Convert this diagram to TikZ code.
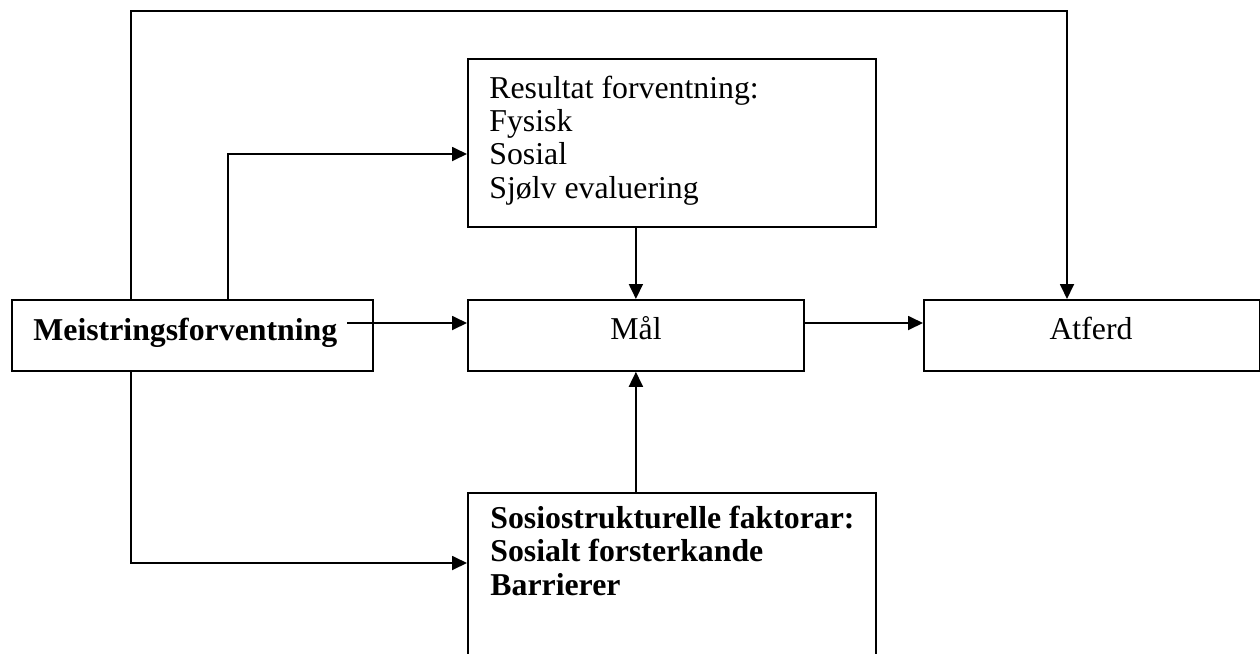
\documentclass[tikz,border=0pt]{standalone}
\usepackage{fontspec}
\setmainfont{Liberation Serif}
\usetikzlibrary{arrows.meta}
\begin{document}
\begin{tikzpicture}[x=0.5pt,y=-0.5pt,
  box/.style={draw, line width=0.9pt, inner sep=0pt, anchor=north west},
  lbl/.style={inner sep=0pt, font=\fontsize{15.9}{16.67}\selectfont},
  lblb/.style={inner sep=0pt, font=\fontsize{15.9}{16.67}\selectfont\bfseries},
  conn/.style={line width=0.9pt},
  arr/.style={conn, -{Triangle[length=7.5pt,width=7pt]}}]
\useasboundingbox (0,0) rectangle (1260,654);
\clip (0,0) rectangle (1260,654);
% boxes
\node[box, minimum width=180.5pt, minimum height=35.5pt] (meis) at (11,299) {};
\node[box, minimum width=168pt, minimum height=35.5pt] (mal) at (467,299) {};
\node[box, minimum width=168pt, minimum height=35.5pt] (atf) at (923,299) {};
\node[box, minimum width=204pt, minimum height=84pt] (res) at (467,58) {};
\node[box, minimum width=204pt, minimum height=85pt] (sos) at (467,492) {};
% texts
\node[lblb, anchor=base west] (meist) at (33,340) {Meistringsforventning};
\node[lbl, anchor=base] (malt) at (636,339) {Mål};
\node[lbl, anchor=base] (atft) at (1091,339) {Atferd};
\node[lbl, anchor=base west, align=left] (rest) at (489,198.3) {Resultat forventning:\\Fysisk\\Sosial\\Sjølv evaluering};
\node[lblb, anchor=base west, align=left] (sost) at (490,595) {Sosiostrukturelle faktorar:\\Sosialt forsterkande\\Barrierer};
% connector points
\coordinate (m1) at (347,323);
\coordinate (p1) at (131,299);
\coordinate (tp) at (131,11);
\coordinate (p3) at (1067,299);
\coordinate (p4) at (228,299);
\coordinate (rin) at (467,154);
\coordinate (p5) at (131,370);
\coordinate (sin) at (467,563);
% connectors
\draw[arr] (m1) -- (mal.west |- m1);
\draw[arr] (mal.east |- m1) -- (atf.west |- m1);
\draw[arr] (p1) -- (tp) -| (p3);
\draw[arr] (p4) |- (rin);
\draw[arr] (res.south -| mal.north) -- (mal.north);
\draw[arr] (sos.north -| mal.south) -- (mal.south);
\draw[arr] (p5) |- (sin);
\end{tikzpicture}
\end{document}
